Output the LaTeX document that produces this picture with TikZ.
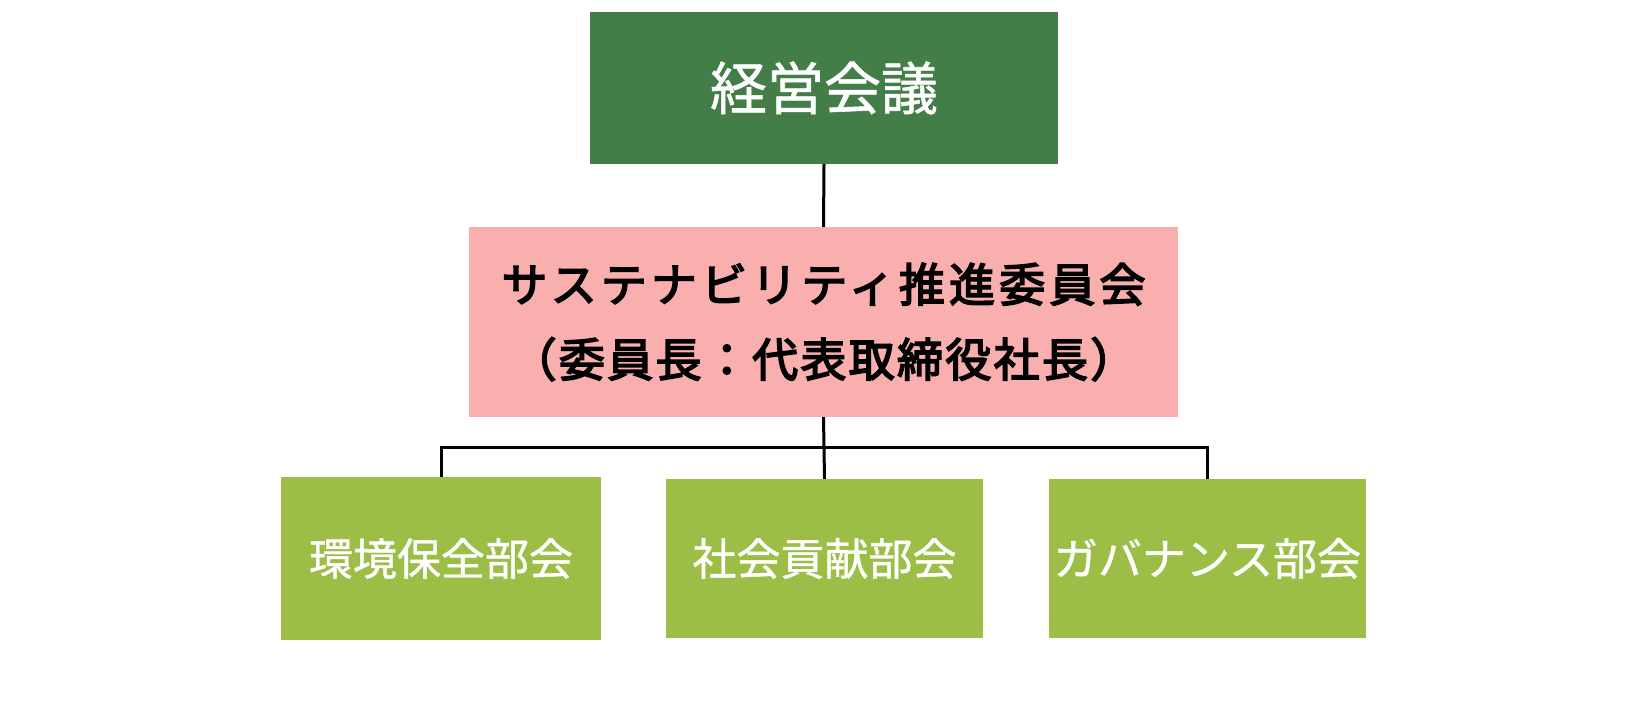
\documentclass[tikz,border=0pt]{standalone}
\usepackage{fontspec}
\newfontfamily\jp{Noto Sans CJK JP}[FakeBold=1]
\newfontfamily\jpb{Noto Sans CJK JP}[FakeBold=3.5]
\definecolor{topgreen}{HTML}{437E48}
\definecolor{pinkbox}{HTML}{F8AFAE}
\definecolor{subgreen}{HTML}{9CBE46}
\tikzset{
  box/.style={inner sep=0pt, anchor=center},
  topbox/.style={box, fill=topgreen, text=white, minimum width=468pt, minimum height=152pt, font=\jp\fontsize{57}{60}\selectfont},
  midbox/.style={box, fill=pinkbox, text=black, minimum width=709pt, minimum height=190pt, align=center, font=\jpb\fontsize{46}{75}\selectfont},
  subbox/.style={box, fill=subgreen, text=white, minimum height=159pt, font=\jp\fontsize{44}{48}\selectfont},
  link/.style={draw=black, line width=3pt}
}
\begin{document}
\begin{tikzpicture}[x=1pt,y=-1pt]
\useasboundingbox (0,0) rectangle (1649,728);
\node[topbox] (top) at (824,88) {経営会議};
\node[midbox] (mid) at (823.5,322) {{\addfontfeature{LetterSpace=9}サステナビリティ推進委員会}\\{\addfontfeature{LetterSpace=5}（委員長：代表取締役社長）}};
\node[subbox, minimum width=320pt, minimum height=163pt] (b1) at (441,558.5) {環境保全部会};
\node[subbox, minimum width=317pt] (b2) at (824.5,558.5) {社会貢献部会};
\node[subbox, minimum width=317pt] (b3) at (1207.5,558.5) {ガバナンス部会};
\coordinate (j) at (824,447);
\draw[link] (top.south) -- (mid.north);
\draw[link] (mid.south) -- (b2.north);
\draw[link] (b1.north) -- (b1.north |- j) -- (b3.north |- j) -- (b3.north);
\end{tikzpicture}
\end{document}
